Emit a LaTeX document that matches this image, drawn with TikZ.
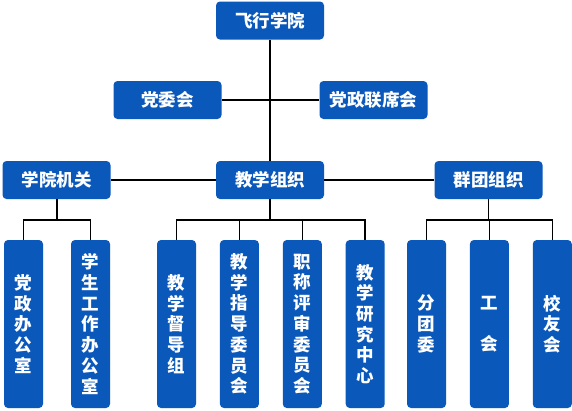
\documentclass[tikz,border=0pt]{standalone}
\usepackage{fontspec}
\usepackage{xcolor}
\usetikzlibrary{positioning}
\newfontfamily\cjk{Noto Sans CJK SC}
\definecolor{orgblue}{HTML}{0B58BB}

\tikzset{
	unit/.style={fill=orgblue, text=white, rounded corners=4pt, inner sep=0pt,
		font=\cjk\bfseries\fontsize{17.5}{20.7}\selectfont,
		minimum width=108pt, minimum height=38pt},
	dept/.style={unit, minimum width=39pt, minimum height=168pt,
		text width=18pt, align=center},
	link/.style={line width=1.6pt},
}

\begin{document}
\begin{tikzpicture}[x=1pt, y=-1pt, node distance=23.5pt]
			\useasboundingbox (0,0) rectangle (572,410);
			% upper levels
			\node[unit] (college) at (270,20.5) {飞行学院};
			\node[unit] (partycomm) at (167.5,100) {党委会};
			\node[unit] (jointmtg) at (373.5,100) {党政联席会};
			\node[unit] (admin) at (56.5,180) {学院机关};
			\node[unit] (teach) at (270,180) {教学组织};
			\node[unit] (mass) at (488.5,180) {群团组织};
			% lower level
			\node[dept] (a1) at (23.5,324) {党\\政\\办\\公\\室};
			\node[dept] (a2) at (90.5,324) {学\\生\\工\\作\\办\\公\\室};
			\node[dept] (t1) at (176.5,324) {教\\学\\督\\导\\组};
			\node[dept, right=of t1] (t2) {教\\学\\指\\导\\委\\员\\会};
			\node[dept, right=of t2] (t3) {职\\称\\评\\审\\委\\员\\会};
			\node[dept, right=of t3] (t4) {教\\学\\研\\究\\中\\心};
			\node[dept] (m1) at (426.5,324) {分\\团\\委};
			\node[dept, right=of m1] (m2) {工\\~\\会};
			\node[dept, right=of m2] (m3) {校\\友\\会};
			% buses
			\coordinate (adminbus) at (57,220);
			\coordinate (teachbus) at (270,220);
			\coordinate (massbus) at (488.5,220);
			% connectors
			\draw[link] (college) -- (teach);
			\draw[link] (partycomm) -- (jointmtg);
			\draw[link] (admin) -- (teach);
			\draw[link] (teach) -- (mass);
			\draw[link] (admin.south -| adminbus) -- (adminbus);
			\draw[link] (a1.north) |- (adminbus) -| (a2.north);
			\draw[link] (teach) -- (teachbus);
			\draw[link] (t1.north) |- (teachbus) -| (t4.north);
			\draw[link] (t2.north) -- (t2.north |- teachbus);
			\draw[link] (t3.north) -- (t3.north |- teachbus);
			\draw[link] (mass) -- (massbus);
			\draw[link] (m1.north) |- (massbus) -| (m3.north);
			\draw[link] (m2.north) -- (m2.north |- massbus);
\end{tikzpicture}
\end{document}
